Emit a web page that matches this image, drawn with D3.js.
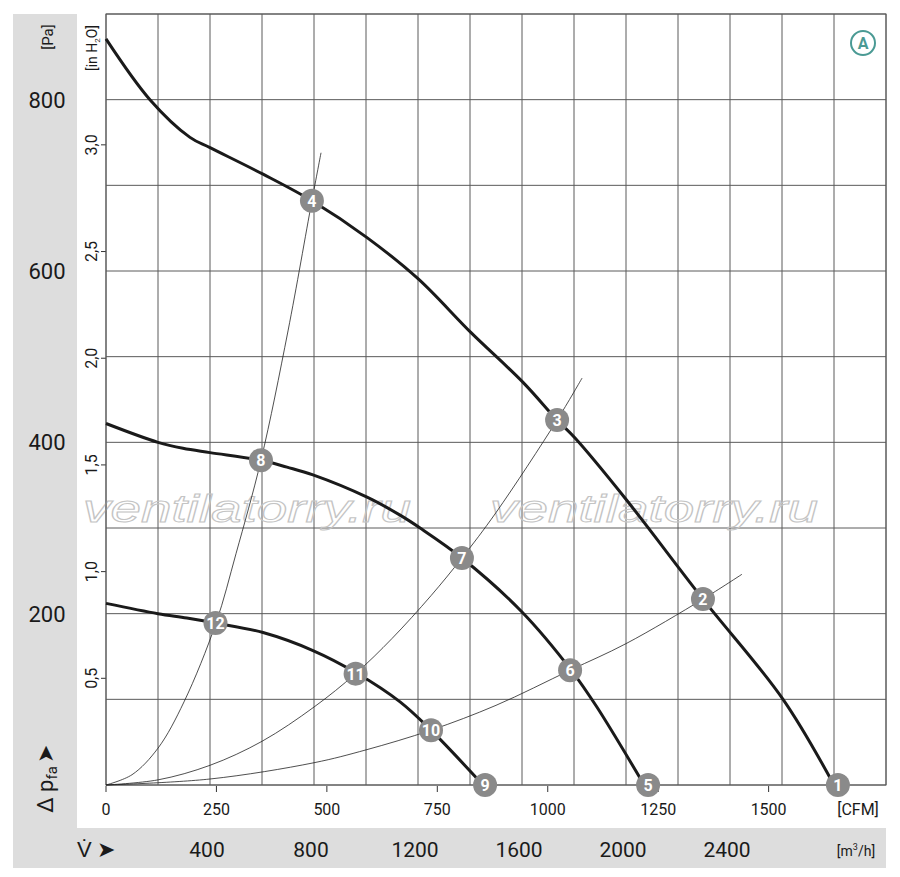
<!DOCTYPE html>
<html>
<head>
<meta charset="utf-8">
<script src="https://cdn.jsdelivr.net/npm/d3@7/dist/d3.min.js"></script>
<style>
  body { margin: 0; background: #fff; }
  svg { display: block; font-family: "Liberation Sans Narrow", "Roboto", "Liberation Sans", sans-serif; }
</style>
</head>
<body>
<svg id="chart" width="900" height="877"></svg>
<script>
// fan curves: [flow m3/h, pressure Pa]
const curveA = [[0,871],[169,800],[323,756],[400,744],[604,713],[792,682],[1004,639],[1200,591],[1404,528],[1604,470],[1735,426],[1804,405],[1996,335],[2296,217],[2604,100],[2800,0]];
const curveB = [[0,422],[200,400],[296,393],[400,388],[596,379],[696,371],[796,362],[1004,336],[1131,315],[1208,300],[1369,265],[1600,202],[1792,133],[1888,91],[2070,0]];
const curveC = [[0,212],[200,200],[311,195],[423,189],[604,178],[796,157],[962,131],[1131,97],[1250,64],[1450,0]];

// system (resistance) curves
const system1 = [[0,0],[100,12],[200,43],[300,97],[423,189],[500,270],[596,379],[700,530],[792,682],[827,738]];
const system2 = [[0,0],[200,6],[400,23],[600,51],[800,91],[960,130],[1100,171],[1250,221],[1369,265],[1500,318],[1735,426],[1831,475]];
const system3 = [[0,0],[400,7],[800,26],[1000,41],[1250,64],[1500,93],[1785,134],[2000,165],[2296,217],[2446,246]];

// numbered operating points
const markers = [
  {n:1, q:2815, p:0}, {n:2, q:2296, p:217}, {n:3, q:1735, p:426}, {n:4, q:792, p:682},
  {n:5, q:2085, p:0}, {n:6, q:1785, p:134}, {n:7, q:1369, p:265}, {n:8, q:596, p:379},
  {n:9, q:1458, p:0}, {n:10, q:1250, p:64}, {n:11, q:960, p:130}, {n:12, q:421, p:189}
];

// tick labels
const paTicks = [200, 400, 600, 800];
const inH2OTicks = ["0,5", "1,0", "1,5", "2,0", "2,5", "3,0"];
const cfmTicks = [0, 250, 500, 750, 1000, 1250, 1500];
const m3hTicks = [400, 800, 1200, 1600, 2000, 2400];

const PA_PER_INH2O = 249.09;
const M3H_PER_CFM = 1.699;

const svg = d3.select("#chart");
const x = d3.scaleLinear().domain([0, 3000]).range([106, 886]);
const y = d3.scaleLinear().domain([0, 900]).range([785, 14]);

// gray side bands
svg.append("rect").attr("x", 13).attr("y", 14).attr("width", 64).attr("height", 814).attr("fill", "#dddddd");
svg.append("rect").attr("x", 13).attr("y", 828).attr("width", 873).attr("height", 40).attr("fill", "#dddddd");

// grid
const grid = svg.append("g").attr("stroke", "#5a5a5a").attr("stroke-width", 1);
grid.selectAll("line.v").data(d3.range(0, 3001, 200)).join("line")
  .attr("x1", d => x(d)).attr("x2", d => x(d)).attr("y1", y(0)).attr("y2", y(900));
grid.selectAll("line.h").data(d3.range(0, 901, 100)).join("line")
  .attr("x1", x(0)).attr("x2", x(3000)).attr("y1", d => y(d)).attr("y2", d => y(d));

// watermark
svg.selectAll("text.wm").data([83, 490]).join("text")
  .attr("x", d => d).attr("y", 522)
  .attr("font-family", "'Liberation Sans', Arial, sans-serif")
  .attr("font-style", "italic").attr("font-size", 38)
  .attr("textLength", 328).attr("lengthAdjust", "spacingAndGlyphs")
  .attr("fill", "none").attr("stroke", "#c4c4c4").attr("stroke-width", 1)
  .text("ventilatorry.ru");

// left axis: Pa
svg.selectAll("text.pa").data(paTicks).join("text")
  .attr("x", 47).attr("y", d => y(d) + 8)
  .attr("text-anchor", "middle").attr("font-size", 22).attr("fill", "#1a1a1a")
  .text(d => d);
svg.append("text").attr("transform", "translate(53,37) rotate(-90)")
  .attr("text-anchor", "middle").attr("font-size", 15).attr("fill", "#1a1a1a").text("[Pa]");

// inner axis: in H2O
const yInch = d3.scaleLinear().domain([0, 900 / PA_PER_INH2O]).range([785, 14]);
svg.selectAll("line.inch").data(inH2OTicks).join("line")
  .attr("x1", 101).attr("x2", 106)
  .attr("y1", d => yInch(parseFloat(d.replace(",", ".")))).attr("y2", d => yInch(parseFloat(d.replace(",", "."))))
  .attr("stroke", "#333");
svg.selectAll("text.inch").data(inH2OTicks).join("text")
  .attr("transform", d => `translate(97,${yInch(parseFloat(d.replace(",", ".")))}) rotate(-90)`)
  .attr("text-anchor", "middle").attr("font-size", 16).attr("fill", "#1a1a1a")
  .text(d => d);
const inLbl = svg.append("text").attr("transform", "translate(97,48) rotate(-90)")
  .attr("text-anchor", "middle").attr("font-size", 14).attr("fill", "#1a1a1a");
inLbl.append("tspan").text("[in H");
inLbl.append("tspan").attr("font-size", 8).attr("dy", 3).text("2");
inLbl.append("tspan").attr("dy", -3).text("O]");

// Δ p_fa label
const dp = svg.append("text").attr("transform", "translate(53,779) rotate(-90)")
  .attr("text-anchor", "middle").attr("font-size", 22).attr("fill", "#1a1a1a");
dp.append("tspan").text("Δ p");
dp.append("tspan").attr("font-size", 15).attr("dy", 4).text("fa");
dp.append("tspan").attr("dy", -4).attr("dx", 3).text("➤");

// bottom axis: CFM
svg.selectAll("line.cfm").data(cfmTicks).join("line")
  .attr("x1", d => x(d * M3H_PER_CFM)).attr("x2", d => x(d * M3H_PER_CFM))
  .attr("y1", 786).attr("y2", 792).attr("stroke", "#333");
svg.selectAll("text.cfm").data(cfmTicks).join("text")
  .attr("x", d => x(d * M3H_PER_CFM)).attr("y", 815)
  .attr("text-anchor", "middle").attr("font-size", 16).attr("fill", "#1a1a1a")
  .text(d => d);
svg.append("text").attr("x", 858).attr("y", 815).attr("text-anchor", "middle")
  .attr("font-size", 16).attr("fill", "#1a1a1a").text("[CFM]");

// m3/h axis
svg.selectAll("text.m3h").data(m3hTicks).join("text")
  .attr("x", d => x(d) - 3).attr("y", 857)
  .attr("text-anchor", "middle").attr("font-size", 21).attr("fill", "#1a1a1a")
  .text(d => d);
const m3 = svg.append("text").attr("x", 856).attr("y", 856).attr("text-anchor", "middle")
  .attr("font-size", 14).attr("fill", "#1a1a1a");
m3.append("tspan").text("[m");
m3.append("tspan").attr("font-size", 9).attr("dy", -6).text("3");
m3.append("tspan").attr("dy", 6).text("/h]");
svg.append("text").attr("x", 77).attr("y", 857).attr("font-size", 22).attr("fill", "#1a1a1a").text("V̇ ➤");

// plot frame
svg.append("rect").attr("x", x(0)).attr("y", y(900)).attr("width", x(3000) - x(0)).attr("height", y(0) - y(900))
  .attr("fill", "none").attr("stroke", "#5a5a5a").attr("stroke-width", 1);

const line = d3.line().x(d => x(d[0])).y(d => y(d[1])).curve(d3.curveCatmullRom.alpha(0.5));

// system curves
svg.selectAll("path.sys").data([system1, system2, system3]).join("path")
  .attr("d", line).attr("fill", "none").attr("stroke", "#222").attr("stroke-width", 0.8);

// fan curves
svg.selectAll("path.fan").data([curveA, curveB, curveC]).join("path")
  .attr("d", line).attr("fill", "none").attr("stroke", "#1a1a1a").attr("stroke-width", 3);

// markers
const mk = svg.selectAll("g.mk").data(markers).join("g")
  .attr("transform", d => `translate(${x(d.q)},${y(d.p)})`);
mk.append("circle").attr("r", 12).attr("fill", "#8a8a8a");
mk.append("text").attr("text-anchor", "middle").attr("dy", 6)
  .attr("font-size", 16).attr("font-weight", "bold").attr("fill", "#fff")
  .text(d => d.n);

// curve identifier
svg.append("circle").attr("cx", 863).attr("cy", 43).attr("r", 12)
  .attr("fill", "#fff").attr("stroke", "#4a9a94").attr("stroke-width", 2);
svg.append("text").attr("x", 863).attr("y", 49).attr("text-anchor", "middle")
  .attr("font-size", 16).attr("font-weight", "bold").attr("fill", "#4a9a94").text("A");
</script>
</body>
</html>
